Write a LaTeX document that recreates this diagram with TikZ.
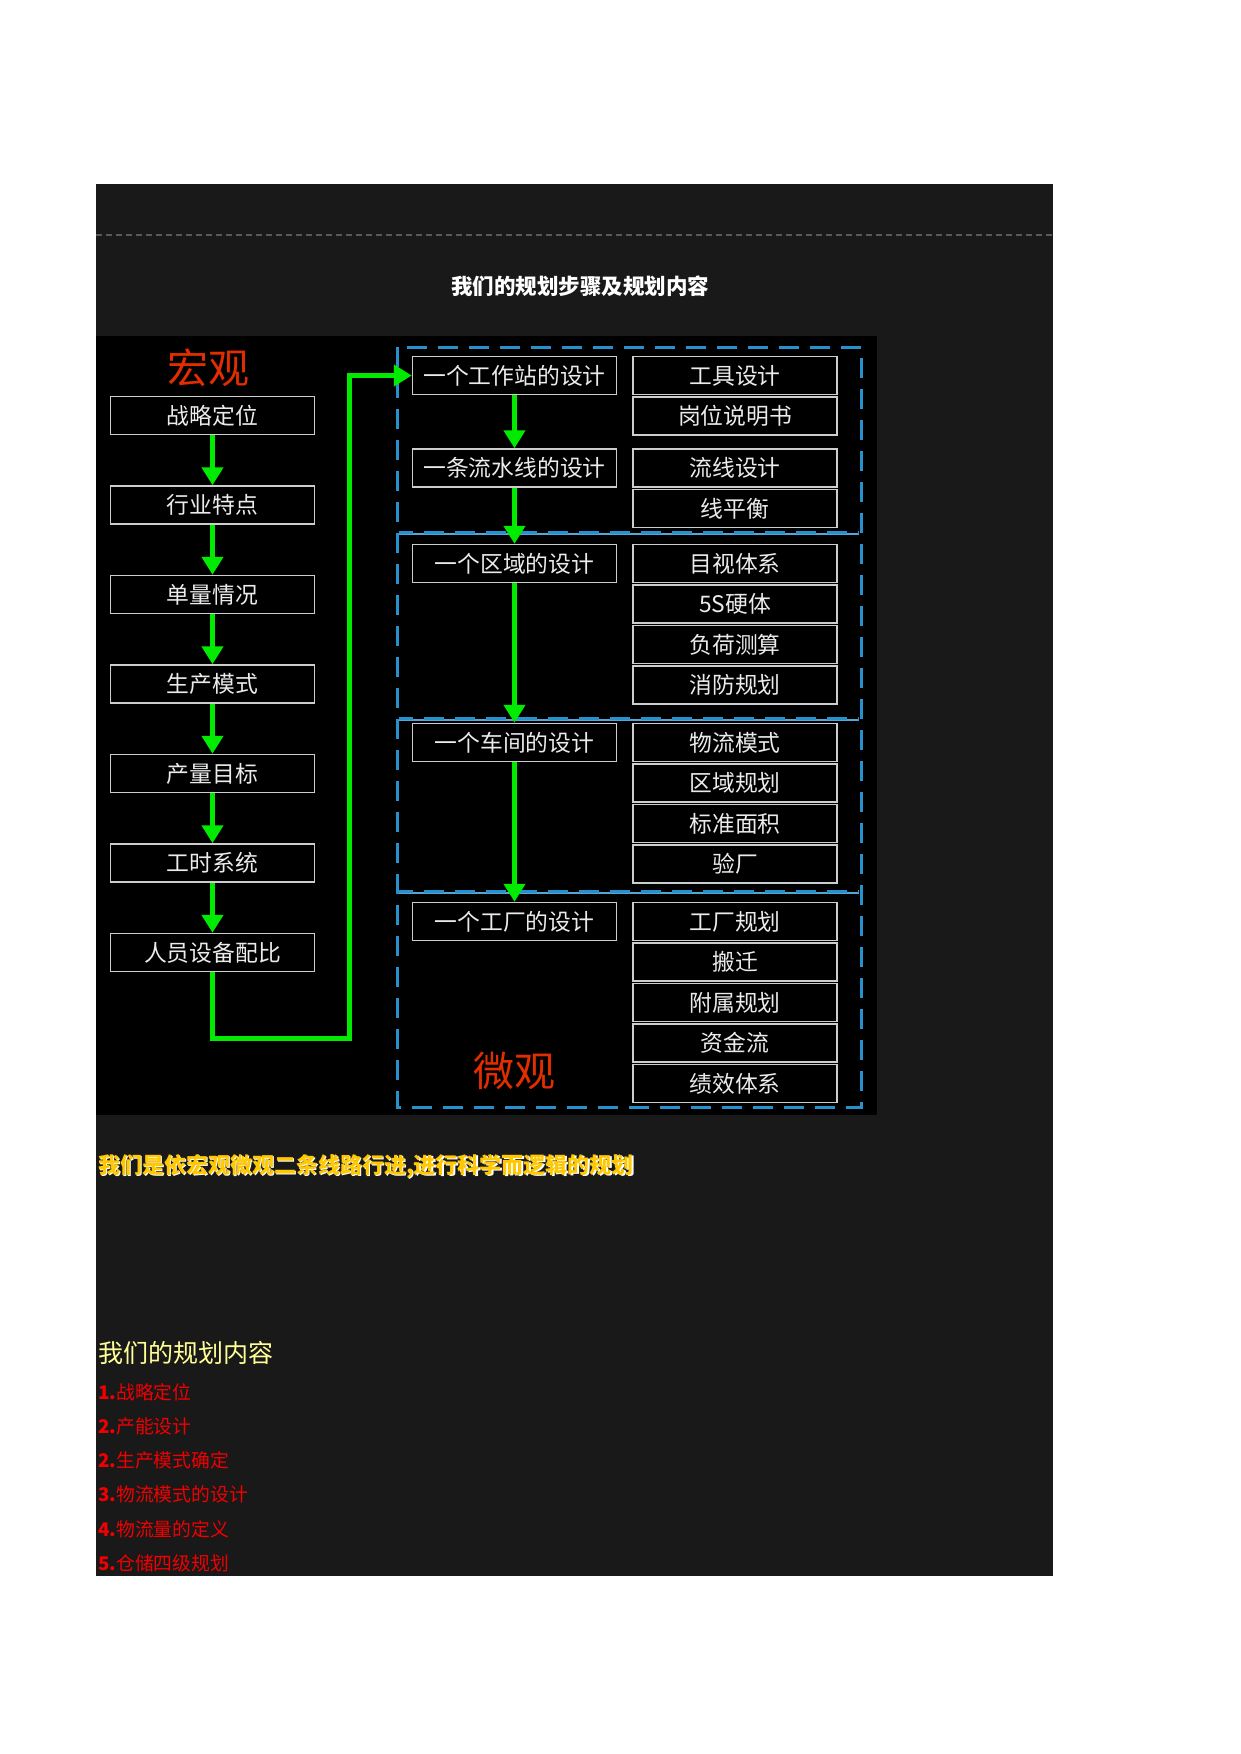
\documentclass[tikz,border=0pt]{standalone}
\usepackage{fontspec}
\newfontfamily\cjk{Noto Sans CJK SC}
\usepackage{xcolor}
\usepackage{tikz}
\usetikzlibrary{positioning,arrows.meta}
\definecolor{panelgray}{RGB}{25,25,25}
\definecolor{boxgray}{RGB}{205,205,205}
\definecolor{boxtext}{RGB}{235,235,235}
\definecolor{flowgreen}{RGB}{0,235,0}
\definecolor{frameblue}{RGB}{38,145,205}
\definecolor{titlered}{RGB}{225,45,0}
\definecolor{slogan}{RGB}{255,200,0}
\definecolor{paleyellow}{RGB}{255,255,150}
\definecolor{listred}{RGB}{240,0,0}

\begin{document}
\begin{tikzpicture}[x=1pt, y=-1pt, node distance=1pt, font=\cjk]
\tikzstyle{box}=[draw=boxgray, line width=1.5pt, text=boxtext, inner sep=0pt,
  minimum width=204pt, minimum height=38pt, font=\cjk\fontsize{22.8}{22.8}\selectfont]
\tikzstyle{flow}=[draw=flowgreen, line width=5pt, -{Triangle[width=21pt,length=18pt]}]
\tikzstyle{frame}=[draw=frameblue, line width=3pt, dash pattern=on 20pt off 11pt]
\tikzstyle{item}=[anchor=west, inner sep=0pt, text=listred,
  font=\cjk\fontsize{18.8}{18.8}\selectfont]
\useasboundingbox (0,0) rectangle (1241,1754);
\fill[white] (0,0) rectangle (1241,1754);
\fill[panelgray] (96,184) rectangle (1053,1576);
\draw[gray!70!black, line width=1.2pt, dash pattern=on 6pt off 4pt] (96,235) -- (1053,235);
\node[text=white, font=\cjk\bfseries\fontsize{21.5}{21.5}\selectfont] (heading) at (580,286)
  {我们的规划步骤及规划内容};
% picture
\fill[black] (96,336) rectangle (877,1115);
\node[text=titlered, font=\cjk\fontsize{41}{41}\selectfont] (macro) at (208,368) {宏观};
\node[text=titlered, font=\cjk\fontsize{41}{41}\selectfont] (micro) at (514,1071) {微观};

% macro column
\node[box] (zhanlue) at (212.5,415.5) {战略定位};
\node[box, below=50pt of zhanlue] (hangye) {行业特点};
\node[box, below=50pt of hangye] (danliang) {单量情况};
\node[box, below=50pt of danliang] (shengchan) {生产模式};
\node[box, below=50pt of shengchan] (chanliang) {产量目标};
\node[box, below=50pt of chanliang] (gongshi) {工时系统};
\node[box, below=50pt of gongshi] (renyuan) {人员设备配比};
\foreach \a/\b in {zhanlue/hangye, hangye/danliang, danliang/shengchan,
  shengchan/chanliang, chanliang/gongshi, gongshi/renyuan}
  \draw[flow] (\a) -- (\b);

% micro column
\node[box] (gongzuozhan) at (514.5,375.5) {一个工作站的设计};
\node[box] (liushui) at (514.5,468) {一条流水线的设计};
\node[box] (quyu) at (514.5,563.5) {一个区域的设计};
\node[box] (chejian) at (514.5,742.5) {一个车间的设计};
\node[box] (gongchang) at (514.5,921.5) {一个工厂的设计};

\node[box] (gongju) at (735,375.5) {工具设计};
\node[box, below=of gongju] (gangwei) {岗位说明书};
\node[box] (liuxian) at (735,468) {流线设计};
\node[box, below=of liuxian] (pingheng) {线平衡};
\node[box] (mushi) at (735,563.5) {目视体系};
\node[box, below=of mushi] (wus) {5S硬体};
\node[box, below=of wus] (fuhe) {负荷测算};
\node[box, below=of fuhe] (xiaofang) {消防规划};
\node[box] (wuliu) at (735,742.5) {物流模式};
\node[box, below=of wuliu] (quyugh) {区域规划};
\node[box, below=of quyugh] (biaozhun) {标准面积};
\node[box, below=of biaozhun] (yanchang) {验厂};
\node[box] (gcgh) at (735,921.5) {工厂规划};
\node[box, below=of gcgh] (banqian) {搬迁};
\node[box, below=of banqian] (fushu) {附属规划};
\node[box, below=of fushu] (zijin) {资金流};
\node[box, below=of zijin] (jixiao) {绩效体系};

% dashed frame and dividers
\draw[frame] (397,347) rectangle (861,1107);
\foreach \y in {532,718,891}{
  \draw[frameblue!80!white, line width=1.5pt] (399,\y+2) -- (859,\y+2);
  \draw[frame, dash phase=6pt] (399,\y) -- (859,\y);
}

\foreach \a/\b in {gongzuozhan/liushui, liushui/quyu, quyu/chejian, chejian/gongchang}
  \draw[flow] (\a) -- (\b);
\draw[flow, line join=miter] (renyuan.south) |- (349,1038) |- (gongzuozhan.west);

% text below the picture
\node[anchor=west, inner sep=0pt, text=white, font=\cjk\bfseries\fontsize{22}{22}\selectfont]
  at (99.5,1167.5) {我们是依宏观微观二条线路行进,进行科学而逻辑的规划};
\node[anchor=west, inner sep=0pt, text=slogan, font=\cjk\bfseries\fontsize{22}{22}\selectfont]
  (motto) at (98,1166) {我们是依宏观微观二条线路行进,进行科学而逻辑的规划};
\node[anchor=west, inner sep=0pt, text=paleyellow, font=\cjk\fontsize{25}{25}\selectfont]
  (content) at (98,1353) {我们的规划内容};
\foreach \n/\t [count=\k] in {1/战略定位, 2/产能设计, 2/生产模式确定,
  3/物流模式的设计, 4/物流量的定义, 5/仓储四级规划}
  \node[item] (item\k) at (98,{1392+34.2*(\k-1)}) {\textbf{\n.}\t};
\end{tikzpicture}
\end{document}
